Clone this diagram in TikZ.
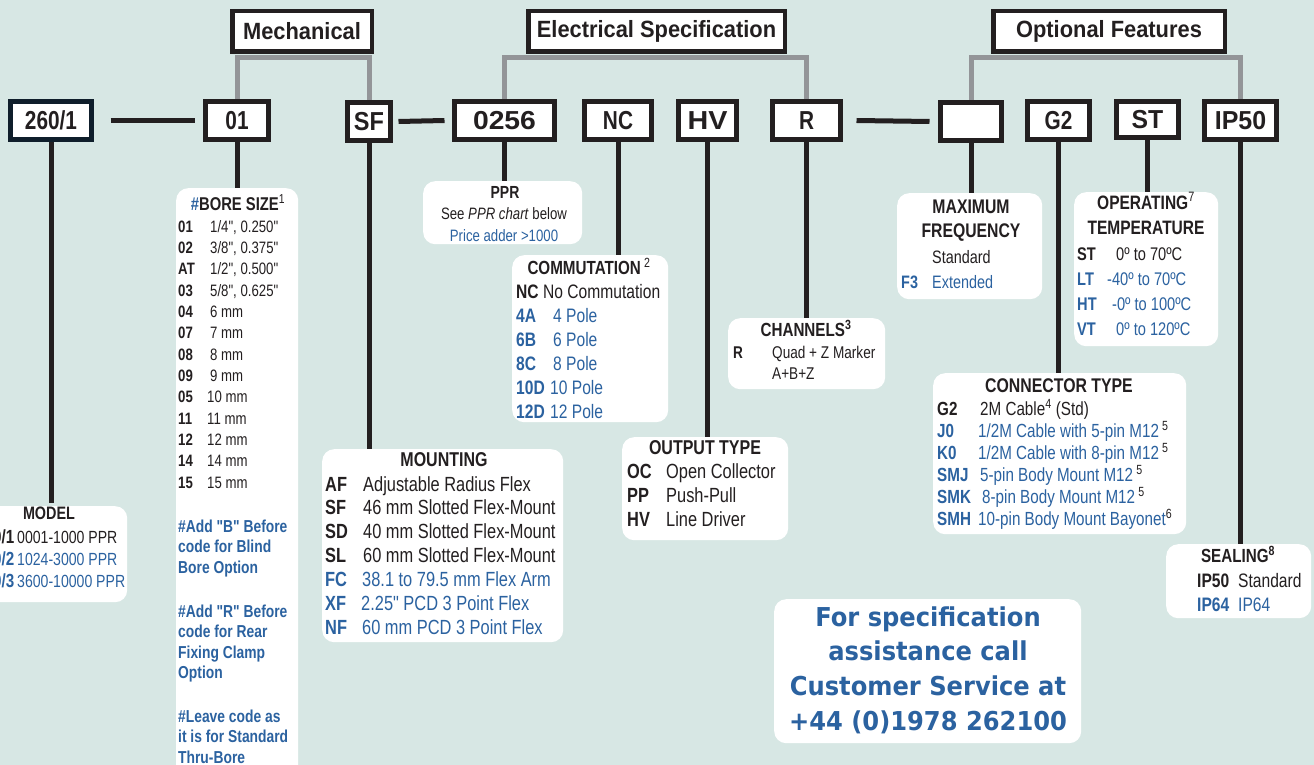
\documentclass[tikz,border=0pt]{standalone}
\usepackage{fontspec}
\usepackage{graphicx}
\setmainfont{Liberation Sans}[FakeStretch=0.8, Ligatures=TeXOff]
\newfontfamily\hdrfont{Liberation Sans}[FakeStretch=0.93]
\newfontfamily\contactfont{DejaVu Sans}[FakeStretch=0.93]
\definecolor{ink}{HTML}{231F20}
\definecolor{navy}{HTML}{0F1E2B}
\definecolor{eblue}{HTML}{2B62A0}
\definecolor{greyl}{HTML}{939598}
\definecolor{bg}{HTML}{D7E7E4}
\newcommand\fsz[2]{\fontsize{#1}{#2}\selectfont}
\newcommand\cd[2]{\makebox[#1pt][l]{\bfseries #2}}
\newcommand\sups[1]{\textsuperscript{\mdseries\color{ink}#1}}
\newcommand\qq{\symbol{34}}
\begin{document}
\begin{tikzpicture}[x=1pt,y=-1pt,
  every node/.append style={text=ink},
  hdr/.style={draw=ink, line width=4.5pt, fill=white, inner sep=0pt, font=\hdrfont\bfseries\fsz{23.5}{28}},
  codebox/.style={draw=ink, line width=5pt, fill=white, inner sep=0pt, minimum height=38pt, font=\bfseries\fsz{26}{30}},
  panel/.style={fill=white, rounded corners=12pt, inner sep=0pt, anchor=north west},
  link/.style={draw=ink, line width=5pt},
  glink/.style={draw=greyl, line width=5pt},
  txt/.style={inner sep=0pt, anchor=base west},
  ttl/.style={inner sep=0pt, anchor=base}]
\fill[bg] (0,0) rectangle (1314,765);
\useasboundingbox (0,0) rectangle (1314,765);

% header boxes
\node[hdr, minimum width=139.5pt, minimum height=40.5pt] (mech) at (302,31.5) {Mechanical};
\node[hdr, minimum width=256.5pt, minimum height=40.5pt] (elec) at (656.5,31.5) {Electrical Specification};
\node[hdr, minimum width=231.5pt, minimum height=40.5pt] (opt) at (1109,31.5) {Optional Features};

% code boxes
\node[codebox, draw=navy, minimum width=81pt] (c2601) at (51,120.5) {260/1};
\node[codebox, minimum width=63pt] (c01) at (237,120.5) {01};
\node[codebox, minimum width=43pt] (cSF) at (369,121.5) {\scalebox{1.13}[1]{SF}};
\node[codebox, minimum width=100pt] (c0256) at (504.5,120.5) {\scalebox{1.36}[1]{0256}};
\node[codebox, minimum width=67pt] (cNC) at (618,120.5) {NC};
\node[codebox, minimum width=58pt] (cHV) at (707.5,120.5) {\scalebox{1.38}[1]{HV}};
\node[codebox, minimum width=68pt] (cR) at (806.5,120.5) {R};
\node[codebox, minimum width=61pt] (cBL) at (971,121.5) {};
\node[codebox, minimum width=62pt] (cG2) at (1058.5,120.5) {G2};
\node[codebox, minimum width=62pt, minimum height=36pt] (cST) at (1147.5,119.5) {\scalebox{1.19}[1]{ST}};
\node[codebox, minimum width=72pt] (cIP) at (1240.5,120.5) {\scalebox{1.2}[1]{IP50}};

% grey brackets
\coordinate (bar) at (0,57.5);
\draw[glink] (c01.north) -- (c01.north |- bar) -- (cSF.north |- bar) -- (cSF.north);
\draw[glink] (c0256.north) -- (c0256.north |- bar) -- (cR.north |- bar) -- (cR.north);
\draw[glink] (cBL.north) -- (cBL.north |- bar) -- (cIP.north |- bar) -- (cIP.north);

% horizontal links
\draw[link] ([xshift=16.5pt]c2601.east) -- ([xshift=-8.5pt]c01.west);
\draw[link] ([xshift=5.5pt]cSF.east) -- ([xshift=-7.5pt]c0256.west);
\draw[link] ([xshift=13.5pt]cR.east) -- ([xshift=-8.5pt]cBL.west);

% panels
\node[panel, minimum width=147pt, minimum height=96pt] (model) at (-20,506) {};
\node[panel, minimum width=122pt, minimum height=600pt] (bore) at (176,188) {};
\node[panel, minimum width=159pt, minimum height=63pt] (ppr) at (423,181) {};
\node[panel, minimum width=156pt, minimum height=167pt] (comm) at (512,255) {};
\node[panel, minimum width=241pt, minimum height=193pt] (mount) at (322,449) {};
\node[panel, minimum width=166pt, minimum height=103pt] (outp) at (622,437) {};
\node[panel, minimum width=157pt, minimum height=71pt] (chan) at (728,318) {};
\node[panel, minimum width=145pt, minimum height=106pt] (freq) at (897,193) {};
\node[panel, minimum width=144pt, minimum height=154pt] (temp) at (1074,192) {};
\node[panel, minimum width=253pt, minimum height=161pt] (conn) at (933,373) {};
\node[panel, minimum width=145pt, minimum height=74pt] (seal) at (1166,544) {};
\node[panel, minimum width=307pt, minimum height=144pt] (help) at (774,599) {};

% vertical links
\draw[link] (c2601.south) -- ([yshift=3pt]c2601.south |- model.north);
\draw[link] (c01.south) -- (c01.south |- bore.north);
\draw[link] (cSF.south) -- (cSF.south |- mount.north);
\draw[link] (c0256.south) -- (c0256.south |- ppr.north);
\draw[link] (cNC.south) -- (cNC.south |- comm.north);
\draw[link] (cHV.south) -- (cHV.south |- outp.north);
\draw[link] (cR.south) -- (cR.south |- chan.north);
\draw[link] (cBL.south) -- (cBL.south |- freq.north);
\draw[link] (cG2.south) -- (cG2.south |- conn.north);
\draw[link] (cST.south) -- (cST.south |- temp.north);
\draw[link] (cIP.south) -- (cIP.south |- seal.north);

% MODEL
\node[ttl, font=\bfseries\fsz{18}{22}] (modelT) at (49,519) {MODEL};
\node[inner sep=0pt, anchor=base east, font=\bfseries\fsz{19}{22}] (modelC) at (14.5,543)
  {\begin{tabular}[t]{@{}r@{}}0/1\\ \color{eblue}0/2\\ \color{eblue}0/3\end{tabular}};
\node[txt, font=\fsz{17.6}{22}] (modelD) at (17,543)
  {\begin{tabular}[t]{@{}l@{}}0001-1000 PPR\\ \color{eblue}1024-3000 PPR\\ \color{eblue}3600-10000 PPR\end{tabular}};

% BORE SIZE
\node[ttl, font=\bfseries\fsz{18.5}{22}] (boreT) at (238,210) {\textcolor{eblue}{\#}BORE SIZE\sups{1}};
\node[txt, font=\fsz{16.5}{21.35}] (boreR) at (178,232)
  {\begin{tabular}[t]{@{}l@{}}
   \cd{32}{01}1/4\qq, 0.250\qq\\
   \cd{32}{02}3/8\qq, 0.375\qq\\
   \cd{32}{AT}1/2\qq, 0.500\qq\\
   \cd{32}{03}5/8\qq, 0.625\qq\\
   \cd{32}{04}6 mm\\
   \cd{32}{07}7 mm\\
   \cd{32}{08}8 mm\\
   \cd{32}{09}9 mm\\
   \cd{29}{05}10 mm\\
   \cd{29}{11}11 mm\\
   \cd{29}{12}12 mm\\
   \cd{29}{14}14 mm\\
   \cd{29}{15}15 mm
  \end{tabular}};
\node[txt, font=\bfseries\fsz{17.3}{20.6}, text=eblue] (boreN1) at (178,532)
  {\begin{tabular}[t]{@{}l@{}}\#Add \qq B\qq{} Before\\ code for Blind\\ Bore Option\end{tabular}};
\node[txt, font=\bfseries\fsz{17.3}{20.6}, text=eblue] (boreN2) at (178,617)
  {\begin{tabular}[t]{@{}l@{}}\#Add \qq R\qq{} Before\\ code for Rear\\ Fixing Clamp\\ Option\end{tabular}};
\node[txt, font=\bfseries\fsz{17.3}{20.6}, text=eblue] (boreN3) at (178,722)
  {\begin{tabular}[t]{@{}l@{}}\#Leave code as\\ it is for Standard\\ Thru-Bore\end{tabular}};

% PPR
\node[ttl, font=\bfseries\fsz{17.5}{21}] (pprT) at (505,198) {PPR};
\node[ttl, font=\fsz{16.5}{21}] (pprA) at (504,219) {See \textit{PPR chart} below};
\node[ttl, font=\fsz{16.5}{21}, text=eblue] (pprB) at (504,241) {Price adder >1000};

% COMMUTATION
\node[ttl, font=\bfseries\fsz{19}{22}] (commT) at (589,274) {COMMUTATION\,\sups{2}};
\node[txt, font=\fsz{19.5}{24}] (commR) at (516,298)
  {\begin{tabular}[t]{@{}l@{}}
   \cd{27}{NC}No Commutation\\
   \color{eblue}\cd{37}{4A}4 Pole\\
   \color{eblue}\cd{37}{6B}6 Pole\\
   \color{eblue}\cd{37}{8C}8 Pole\\
   \color{eblue}\cd{34}{10D}10 Pole\\
   \color{eblue}\cd{34}{12D}12 Pole
  \end{tabular}};

% MOUNTING
\node[ttl, font=\bfseries\fsz{20}{24}] (mountT) at (444,466) {MOUNTING};
\node[txt, font=\fsz{20.5}{23.9}] (mountR) at (325,491)
  {\begin{tabular}[t]{@{}l@{}}
   \cd{38}{AF}Adjustable Radius Flex\\
   \cd{38}{SF}46 mm Slotted Flex-Mount\\
   \cd{38}{SD}40 mm Slotted Flex-Mount\\
   \cd{38}{SL}60 mm Slotted Flex-Mount\\
   \color{eblue}\cd{37}{FC}38.1 to 79.5 mm Flex Arm\\
   \color{eblue}\cd{36}{XF}2.25\qq{} PCD 3 Point Flex\\
   \color{eblue}\cd{37}{NF}60 mm PCD 3 Point Flex
  \end{tabular}};

% OUTPUT TYPE
\node[ttl, font=\bfseries\fsz{20}{24}] (outT) at (705,454) {OUTPUT TYPE};
\node[txt, font=\fsz{20.5}{24}] (outR) at (627,478)
  {\begin{tabular}[t]{@{}l@{}}
   \cd{39}{OC}Open Collector\\
   \cd{39}{PP}Push-Pull\\
   \cd{39}{HV}Line Driver
  \end{tabular}};

% CHANNELS
\node[ttl, font=\bfseries\fsz{19}{22}] (chanT) at (806,336) {CHANNELS\textsuperscript{3}};
\node[txt, font=\fsz{17}{21}] (chanR) at (733,358)
  {\begin{tabular}[t]{@{}l@{}}
   \cd{39}{R}Quad + Z Marker\\
   \hspace*{39pt}A+B+Z
  \end{tabular}};

% MAXIMUM FREQUENCY
\node[ttl, font=\bfseries\fsz{19.7}{24}] (freqT) at (971,213)
  {\begin{tabular}[t]{@{}c@{}}MAXIMUM\\ FREQUENCY\end{tabular}};
\node[txt, font=\fsz{18}{25}] (freqR) at (901,263)
  {\begin{tabular}[t]{@{}l@{}}
   \hspace*{31pt}Standard\\
   \color{eblue}\cd{31}{F3}Extended
  \end{tabular}};

% OPERATING TEMPERATURE
\node[ttl, font=\bfseries\fsz{19.4}{25}] (tempT) at (1146,209)
  {\begin{tabular}[t]{@{}c@{}}OPERATING\sups{7}\\ TEMPERATURE\end{tabular}};
\node[txt, font=\fsz{18.3}{25}] (tempR) at (1077,260)
  {\begin{tabular}[t]{@{}l@{}}
   \cd{39}{ST}0º to 70ºC\\
   \color{eblue}\cd{30}{LT}-40º to 70ºC\\
   \color{eblue}\cd{35}{HT}-0º to 100ºC\\
   \color{eblue}\cd{39}{VT}0º to 120ºC
  \end{tabular}};

% CONNECTOR TYPE
\node[ttl, font=\bfseries\fsz{19.8}{24}] (connT) at (1059,392) {CONNECTOR TYPE};
\node[txt, font=\fsz{19}{22}] (connR) at (937,415)
  {\begin{tabular}[t]{@{}l@{}}
   \cd{43}{G2}2M Cable\sups{4} (Std)\\
   \color{eblue}\cd{41}{J0}1/2M Cable with 5-pin M12\,\sups{5}\\
   \color{eblue}\cd{41}{K0}1/2M Cable with 8-pin M12\,\sups{5}\\
   \color{eblue}\cd{43}{SMJ}5-pin Body Mount M12\,\sups{5}\\
   \color{eblue}\cd{45}{SMK}8-pin Body Mount M12\,\sups{5}\\
   \color{eblue}\cd{41}{SMH}10-pin Body Mount Bayonet\sups{6}
  \end{tabular}};

% SEALING
\node[ttl, font=\bfseries\fsz{19}{22}] (sealT) at (1238,562) {SEALING\textsuperscript{8}};
\node[txt, font=\fsz{19.5}{24}] (sealR) at (1197,587)
  {\begin{tabular}[t]{@{}l@{}}
   \cd{41}{IP50}Standard\\
   \color{eblue}\cd{41}{IP64}IP64
  \end{tabular}};

% contact
\node[ttl, font=\contactfont\bfseries\fsz{26}{34.7}, text=eblue] (helpT) at (928,626)
  {\begin{tabular}[t]{@{}c@{}}For specification\\ assistance call\\ Customer Service at\\ +44 (0)1978 262100\end{tabular}};
\end{tikzpicture}
\end{document}
